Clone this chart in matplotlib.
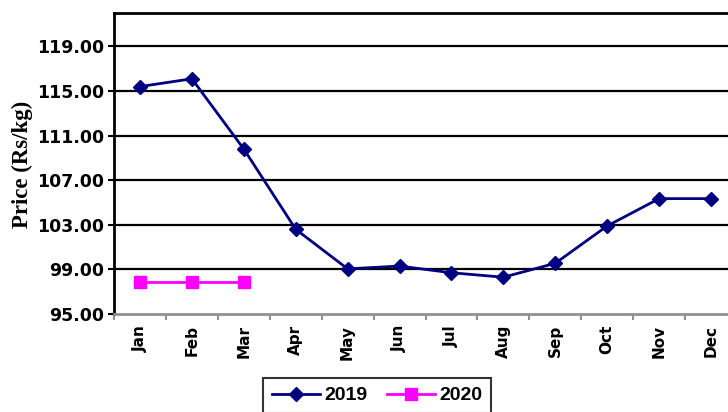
import matplotlib.pyplot as plt
import numpy as np

months = ['Jan', 'Feb', 'Mar', 'Apr', 'May', 'Jun', 'Jul', 'Aug', 'Sep', 'Oct', 'Nov', 'Dec']
price_2019 = [115.4, 116.1, 109.8, 102.6, 99.05, 99.3, 98.7, 98.3, 99.55, 102.9, 105.35, 105.35]
price_2020 = [97.9, 97.9, 97.9]
yticks = [95, 99, 103, 107, 111, 115, 119]

fig = plt.figure(figsize=(7.28, 4.12), dpi=100)
ax = fig.add_axes([114 / 728, 1 - 314 / 412, (737 - 114) / 728, (314 - 13) / 412])

x = np.arange(len(months))
l1, = ax.plot(x, price_2019, color='#000080', lw=2, marker='D', ms=7, label='2019')
l2, = ax.plot(x[:len(price_2020)], price_2020, color='#ff00ff', lw=2, marker='s', ms=8.5, label='2020')

ax.set_xlim(-0.5, 11.5)
ax.set_ylim(95, 122)
ax.set_yticks(yticks)
ax.set_yticklabels(['%.2f' % v for v in yticks], fontsize=12.5, fontweight='bold', family='DejaVu Sans')
for v in yticks[1:]:
    ax.axhline(v, color='black', lw=1.6, zorder=0)

ax.set_xticks(x)
ax.set_xticklabels(months, rotation=90, fontsize=11, fontweight='bold', family='DejaVu Sans')
ax.set_xticks(np.arange(-0.5, 12, 1), minor=True)
ax.tick_params(axis='x', which='major', length=0, pad=8)
ax.tick_params(axis='x', which='minor', length=4, width=1.5, color='#909090')
ax.tick_params(axis='y', length=4, width=1.5, pad=3)

fig.text(22 / 728, 1 - 164 / 412, 'Price (Rs/kg)', rotation=90, ha='center', va='center',
         fontsize=16.5, fontweight='bold', family='Liberation Serif')

ax.spines['right'].set_visible(False)
ax.spines['top'].set_linewidth(2)
ax.spines['left'].set_linewidth(2)
ax.spines['bottom'].set_color('#909090')
ax.spines['bottom'].set_linewidth(2)

leg = fig.legend(handles=[l1, l2], loc='upper center', bbox_to_anchor=(377 / 728, 1 - 378 / 412),
                 ncol=2, frameon=True, fancybox=False, edgecolor='black', borderaxespad=0,
                 prop={'family': 'Liberation Sans', 'weight': 'bold', 'size': 14},
                 handlelength=2.5, handletextpad=0.2, columnspacing=1.0, borderpad=0.45)
leg.get_frame().set_linewidth(1.5)

fig.savefig('out.png', dpi=100)
